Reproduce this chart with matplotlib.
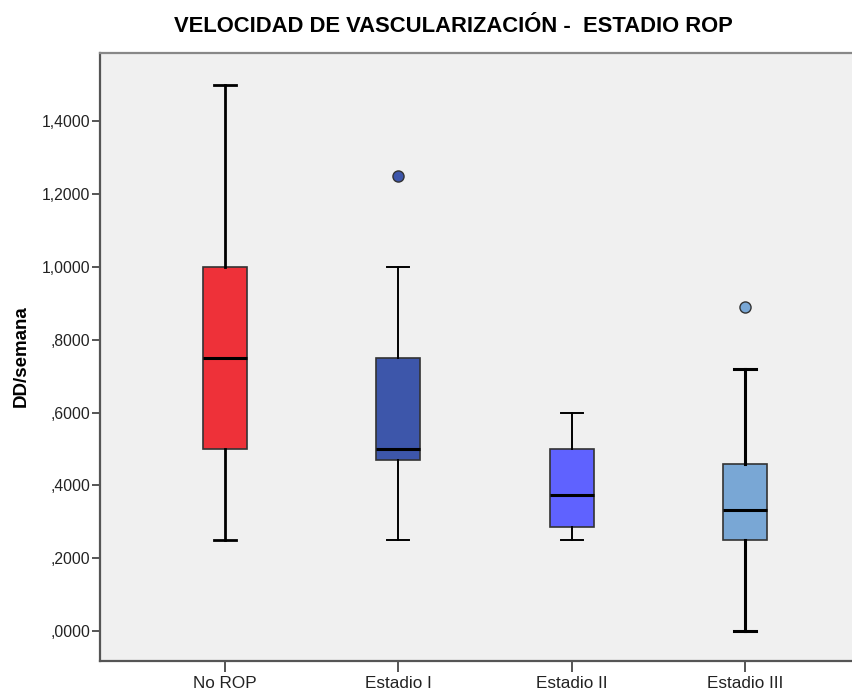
import matplotlib
matplotlib.use("Agg")
import matplotlib.pyplot as plt
from matplotlib.ticker import FuncFormatter

plt.rcParams["font.family"] = ["Liberation Sans", "DejaVu Sans"]

# data (DD/semana)
groups = ["No ROP", "Estadio I", "Estadio II", "Estadio III"]
q1 = [0.50, 0.47, 0.2857, 0.25]
med = [0.75, 0.50, 0.375, 0.3333]
q3 = [1.00, 0.75, 0.50, 0.46]
whislo = [0.25, 0.25, 0.25, 0.00]
whishi = [1.50, 1.00, 0.60, 0.72]
fliers = [[], [1.25], [], [0.89]]

colors = ["#EE3139", "#3D56AA", "#5F62FF", "#79A7D5"]
whisker_lw = [2.0, 1.4, 1.4, 2.2]

fig = plt.figure(figsize=(8.53, 6.92), dpi=100)
ax = fig.add_axes([100 / 853, 31 / 692, 770 / 853, 608 / 692])
ax.set_facecolor("#F0F0F0")

stats = []
for i, g in enumerate(groups):
    stats.append(dict(label=g, q1=q1[i], med=med[i], q3=q3[i],
                      whislo=whislo[i], whishi=whishi[i], fliers=fliers[i]))

for i, st in enumerate(stats):
    ax.bxp([st], positions=[i], widths=0.254, capwidths=0.125,
           patch_artist=True, showfliers=True,
           boxprops=dict(facecolor=colors[i], edgecolor="#333333", linewidth=1.2),
           medianprops=dict(color="black", linewidth=2.2),
           whiskerprops=dict(color="black", linewidth=whisker_lw[i]),
           capprops=dict(color="black", linewidth=whisker_lw[i]),
           flierprops=dict(marker="o", markerfacecolor=colors[i],
                           markeredgecolor="#333333", markersize=8,
                           markeredgewidth=1.0))

ax.set_xlim(-0.72, 3.72)
ax.set_ylim(-0.0824, 1.588)
ax.set_yticks([0.0, 0.2, 0.4, 0.6, 0.8, 1.0, 1.2, 1.4])


def fmt(v, pos):
    s = f"{v:.4f}".replace(".", ",")
    if s.startswith("0,"):
        s = s[1:]
    return s


ax.yaxis.set_major_formatter(FuncFormatter(fmt))
ax.set_xticks(range(len(groups)))
ax.set_xticklabels(groups)

for name, sp in ax.spines.items():
    sp.set_color("#555555")
    sp.set_linewidth(1.6)
ax.spines["top"].set_color("#888888")

ax.tick_params(axis="y", direction="out", length=6, width=1.4, color="#555555",
               labelsize=11.3, labelcolor="#222222", pad=1)
ax.tick_params(axis="x", direction="out", length=8, width=1.4, color="#555555",
               labelsize=12.3, labelcolor="#222222", pad=3)

ax.set_ylabel("DD/semana", fontsize=13.5, fontweight="bold")
ax.yaxis.set_label_coords(-70 / 770, (631 - 356) / 608 + 30 / 608)
fig.text(453 / 853, 1 - 26 / 692, "VELOCIDAD DE VASCULARIZACIÓN -  ESTADIO ROP",
         ha="center", va="center", fontsize=15.8, fontweight="bold")

fig.savefig("out.png", dpi=100, facecolor="white")
